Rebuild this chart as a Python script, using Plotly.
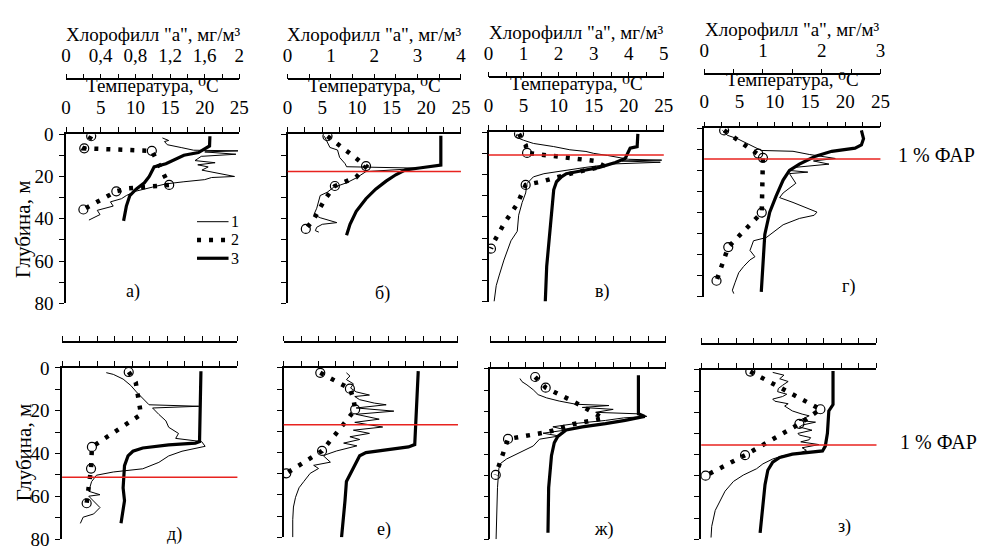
import plotly.graph_objects as go

# ------------------------------------------------------------------ data
# thin line (1), dotted chlorophyll "a" (2, with sample circles), thick temperature (3)
# panel а
a_temp_depth = [1, 5.6, 8.7, 10, 14, 15.5, 20, 23, 26, 29, 34, 41]
a_temp = [20.75, 20.7, 19.1, 17, 14.4, 12.7, 12, 11.3, 10.1, 9.2, 8.7, 8.3]
a_fl_depth = [1.8, 3.0, 3.5, 5.0, 6.4, 7.0, 7.6, 7.9, 8.4, 9.5, 10.5, 12.5, 13.5, 14.5, 15.5, 17, 18, 19, 20,
              20.5, 21.5, 22.5, 23.5, 25, 27, 29, 30.5, 32, 34, 36, 38, 40.6]
a_fl = [13.9, 14.8, 14.2, 14.6, 16.7, 17.5, 18.4, 24.8, 20, 24.5, 19.5, 18.6, 21.5, 19, 20.5, 19.6, 21, 22.5, 24.3,
        21, 20, 17, 14.4, 12.5, 10, 8.7, 8, 6.4, 6.8, 4.5, 4.9, 3.3]
a_chl_depth = [1.0, 6.7, 7.9, 17.8, 24.0, 25.6, 27.0, 35.6]
a_chl = [0.29, 0.21, 0.99, 1.11, 1.19, 0.72, 0.58, 0.2]
a_smp_depth = [1.0, 6.7, 7.9, 24.0, 27.0, 35.6]
a_smp = [0.29, 0.21, 0.99, 1.19, 0.58, 0.2]

# panel б
b_temp_depth = [0.8, 14.6, 16.0, 16.9, 19.2, 22.2, 26, 30.5, 36.5, 42.6, 47.8]
b_temp = [22.1, 22.1, 19, 17, 15.6, 14.2, 12.7, 11.3, 9.9, 9.0, 8.5]
b_fl_depth = [1, 3.5, 6.3, 7.5, 11, 14, 15.4, 16.1, 17.7, 20.7, 23, 25.2, 27.5, 29, 32, 35, 38, 39.5, 41.8, 42.6,
              44, 45.6, 46.3]
b_fl = [5.3, 5.7, 6.1, 7.2, 7.5, 8.3, 8.5, 19.3, 11.3, 9.9, 8.5, 6.6, 5.7, 4.7, 4.5, 4.2, 3.8, 4.7, 7.1, 5.0,
        4.2, 4.0, 4.5]
b_chl_depth = [1, 4.5, 7.4, 11.2, 15.1, 20.4, 24.5, 30.5, 35.8, 40.3, 44.8]
b_chl = [0.92, 1.15, 1.36, 1.57, 1.81, 1.58, 1.09, 0.87, 0.72, 0.6, 0.42]
b_smp_depth = [1, 15.1, 24.5, 44.8]
b_smp = [0.92, 1.81, 1.09, 0.42]

# panel в
v_temp_depth = [0.8, 6.8, 7.5, 10.6, 12.4, 14.3, 16.6, 18.1, 19.6, 21.1, 23.4, 27.2, 40.8, 63.4, 80]
v_temp = [21.3, 21.2, 20.2, 19.8, 19.5, 18.1, 15.8, 13.5, 11.1, 10.4, 9.7, 9.3, 8.9, 8.3, 8.1]
v_fl_depth = [0.8, 2.3, 3.8, 5.3, 6.8, 8.3, 9.1, 10, 11, 12, 12.8, 13.2, 13.6, 14.2, 15, 16.6, 18.1, 19.6, 21.1,
              24.2, 28.7, 33.2, 39.2, 46.8, 51.3, 60.4, 67.9, 72.5, 80]
v_fl = [4.1, 3.9, 5.0, 6.4, 9.3, 11.6, 13.9, 15.0, 17.0, 18.5, 20.0, 24.7, 19.0, 24.5, 17.7, 13.9, 10.7, 7.9, 6.4,
        5.5, 5.3, 4.8, 4.3, 4.1, 3.2, 2.2, 1.5, 1.1, 0.8]
v_chl_depth = [0.8, 6, 9.8, 11.5, 13.5, 16, 19.3, 23.4, 24.9, 33.9, 43, 51.3, 55]
v_chl = [0.87, 1.06, 1.1, 2.0, 3.0, 3.3, 2.4, 1.5, 1.06, 0.82, 0.45, 0.17, 0.07]
v_smp_depth = [0.8, 9.8, 24.9, 55]
v_smp = [0.87, 1.1, 1.06, 0.07]

# panel г
g_temp_depth = [1, 4.9, 7.9, 9.4, 10.9, 13.2, 14.7, 17, 20, 24.6, 32.2, 39.8, 50.4, 65.6, 77.7]
g_temp = [22.3, 22.6, 22.3, 21.4, 18.1, 15.8, 14.9, 13.5, 12.1, 11.2, 10.2, 9.3, 8.6, 8.3, 8.1]
g_fl_depth = [1, 3.3, 4.9, 6.4, 7.9, 9.4, 10.5, 10.9, 12.4, 14.3, 15.5, 17, 18.5, 20, 20.8, 21.5, 26.1, 30.7,
              32.9, 35.2, 38.2, 39.8, 41.3, 42.8, 45.8, 51.9, 53.4, 58, 61, 62.5, 65.6, 68.6, 73.1, 76.9, 78.5]
g_fl = [2.6, 3.3, 4.7, 5.6, 6.5, 7.4, 8.1, 12.6, 14.9, 18.6, 15.5, 17.7, 13.0, 12.1, 14.7, 12.1, 13.0, 11.2,
        10.7, 12.6, 14.9, 16.0, 15.6, 13.5, 11.2, 8.8, 7.0, 6.5, 7.2, 6.5, 5.6, 4.9, 4.4, 4.0, 4.2]
g_chl_depth = [1, 12, 14, 40, 56.4, 72.4]
g_chl = [0.34, 0.92, 1.0, 0.98, 0.41, 0.21]
g_smp_depth = [1, 12, 14, 40, 56.4, 72.4]
g_smp = [0.34, 0.92, 1.0, 0.98, 0.41, 0.21]

# panel д
d_temp_depth = [1.5, 26, 34.4, 35.1, 35.9, 37.4, 38.9, 41.1, 45.6, 56, 62, 72.5]
d_temp = [19.8, 19.7, 19.6, 19.0, 15.2, 11.5, 10.1, 9.4, 8.9, 8.7, 8.9, 8.4]
d_fl_depth = [2.2, 3, 5.2, 8.2, 11.2, 14.2, 17.2, 17.9, 18.7, 21.7, 24.7, 27.7, 30.6, 32.9, 34.4, 36.6, 38.9,
              41.1, 44.1, 47.1, 48.6, 50.1, 53.1, 57.6, 59.2, 59.9, 62.2, 65.2, 68.2, 69.7, 72.6]
d_fl = [6.3, 7.3, 8.7, 9.8, 10.6, 11.5, 12.4, 19.5, 12.9, 13.8, 14.8, 15.2, 16.6, 16.2, 19.9, 20.4, 17.1,
        15.2, 13.8, 11.5, 7.3, 4.9, 4.2, 3.8, 5.4, 3.8, 4.5, 5.4, 4.5, 3.0, 2.6]
d_chl_depth = [1.9, 6.7, 21.7, 36.9, 47, 63.2]
d_chl = [0.76, 0.84, 0.90, 0.34, 0.33, 0.28]
d_smp_depth = [1.9, 36.9, 47, 63.2]
d_smp = [0.76, 0.34, 0.33, 0.28]

# panel е
e_temp_depth = [1.5, 18.9, 36.2, 37.3, 40, 41.5, 44.5, 50.6, 53.6, 62.6, 71.7, 80]
e_temp = [19.3, 19.1, 18.8, 17.9, 11.8, 10.9, 10.4, 9.5, 9.0, 8.8, 8.5, 8.3]
e_fl_depth = [2.3, 3.8, 5.5, 7.5, 9.5, 11.3, 12.8, 13.5, 15, 16.6, 17.4, 18.9, 20.4, 21.9, 24.2, 25.7, 27.9,
              29.4, 30.9, 32.5, 33.8, 35.5, 36.8, 39.2, 40.8, 41.5, 44.5, 46, 47.5, 49.8, 53.6, 56.6, 61.1,
              65.7, 71.7, 80]
e_fl = [9.0, 9.5, 9.0, 10.0, 9.6, 10.4, 12.3, 10.2, 10.9, 13.0, 14.7, 10.4, 15.8, 10.4, 13.7, 10.2, 14.2,
        10.0, 12.3, 9.5, 10.9, 8.6, 10.5, 7.6, 6.2, 5.7, 6.7, 4.3, 5.0, 3.8, 2.9, 2.2, 1.7,
        1.4, 1.3, 1.3]
e_chl_depth = [2.3, 9.8, 14.5, 19.6, 24.9, 39.2, 49.8]
e_chl = [0.42, 0.76, 0.80, 0.82, 0.72, 0.44, 0.03]
e_smp_depth = [2.3, 9.8, 19.6, 39.2, 49.8]
e_smp = [0.42, 0.76, 0.82, 0.44, 0.03]

# panel ж
zh_temp_depth = [3, 21.1, 22.3, 24.2, 25.7, 27.2, 28.7, 31.7, 34.7, 40.8, 55.8, 77]
zh_temp = [21.1, 21.1, 22.0, 19.2, 16.4, 13.1, 10.8, 9.6, 9.1, 8.7, 8.3, 8.2]
zh_fl_depth = [4.5, 6, 7.5, 9.8, 12.1, 13.6, 15.1, 16.6, 17.2, 18.1, 19, 20.4, 21.1, 22.3, 23, 24.2, 25.5,
               27.2, 28.7, 30.2, 31.5, 33, 36.2, 39.2, 42.3, 44.5, 46.8, 55.8, 64.9, 80]
zh_fl = [4.2, 4.5, 5.2, 6.1, 6.8, 8.0, 9.8, 12.2, 16.9, 13.1, 17.5, 15.0, 21.1, 22.3, 19.0, 16.4, 12.5,
         8.9, 10.8, 7.5, 9.8, 7.0, 6.1, 4.2, 2.3, 1.4, 1.2, 1.0, 0.9, 0.8]
zh_chl_depth = [3.8, 8.8, 15.2, 23.2, 26, 29.6, 32.9, 49.8]
zh_chl = [0.51, 0.63, 0.94, 1.29, 0.94, 0.66, 0.2, 0.06]
zh_smp_depth = [3.8, 8.8, 32.9, 49.8]
zh_smp = [0.51, 0.63, 0.2, 0.06]

# panel з
z_temp_depth = [0.5, 16.4, 19.4, 30, 36, 38.3, 39.8, 41.4, 43.6, 47.4, 54.2, 63.3, 77]
z_temp = [18.8, 18.8, 18.2, 18.0, 17.7, 17.3, 13.0, 11.2, 10.2, 9.5, 9.1, 8.8, 8.4]
z_fl_depth = [1.2, 2.5, 4.2, 5.5, 7.3, 8.8, 10.3, 11.5, 12.6, 13.8, 14.8, 16, 17.1, 19.4, 20.9, 21.7, 23.9,
              24.7, 26, 27, 28.5, 30, 30.8, 32, 33, 34, 35.3, 36.8, 38, 39.1, 40.6, 42.1, 44.4, 46.7, 49.7,
              52.7, 57.3, 61.8, 66.4, 73.9, 79.2]
z_fl = [10.2, 11.8, 11.2, 12.4, 11.6, 11.0, 10.9, 12.2, 11.6, 10.2, 10.5, 12.4, 11.9, 13.0, 14.4, 15.4, 14.0,
        16.3, 14.5, 14.0, 15.8, 13.8, 14.0, 15.6, 15.4, 14.2, 16.8, 14.4, 15.0, 14.2, 11.6, 10.2, 8.8, 7.9, 6.0,
        4.6, 3.4, 2.7, 2.0, 1.5, 1.4]
z_chl_depth = [0.8, 18.6, 25.5, 40.3, 50]
z_chl = [0.56, 1.36, 1.12, 0.5, 0.05]
z_smp_depth = [0.8, 18.6, 25.5, 40.3, 50]
z_smp = [0.56, 1.36, 1.12, 0.5, 0.05]

panel_labels = ["а)", "б)", "в)", "г)", "д)", "е)", "ж)", "з)"]
chl_title = 'Хлорофилл "а", мг/м³'
temp_title = "Температура, ⁰С"
depth_title = "Глубина, м"
par_label = "1 % ФАР"
chl_max = [2, 4, 5, 3, 2, 2, 2, 2]
chl_step = [0.2, 0.5, 0.5, 0.5, 0.2, 0.2, 0.2, 0.2]
chl_label_step = [0.4, 1, 1, 1, None, None, None, None]
temp_max = 25
par_depth = [None, 17.6, 10.8, 14.6, 51.1, 26.8, None, 35.5]
legend_names = ["1", "2", "3"]

series = [
    (a_temp_depth, a_temp, a_fl_depth, a_fl, a_chl_depth, a_chl, a_smp_depth, a_smp),
    (b_temp_depth, b_temp, b_fl_depth, b_fl, b_chl_depth, b_chl, b_smp_depth, b_smp),
    (v_temp_depth, v_temp, v_fl_depth, v_fl, v_chl_depth, v_chl, v_smp_depth, v_smp),
    (g_temp_depth, g_temp, g_fl_depth, g_fl, g_chl_depth, g_chl, g_smp_depth, g_smp),
    (d_temp_depth, d_temp, d_fl_depth, d_fl, d_chl_depth, d_chl, d_smp_depth, d_smp),
    (e_temp_depth, e_temp, e_fl_depth, e_fl, e_chl_depth, e_chl, e_smp_depth, e_smp),
    (zh_temp_depth, zh_temp, zh_fl_depth, zh_fl, zh_chl_depth, zh_chl, zh_smp_depth, zh_smp),
    (z_temp_depth, z_temp, z_fl_depth, z_fl, z_chl_depth, z_chl, z_smp_depth, z_smp),
]

# ------------------------------------------------------------------ layout geometry (pixels)
W, H = 983, 556
# x0, x1, y_top (depth 0 / temperature axis), y_bottom (depth 80), chlorophyll axis y
geo = [
    (62, 238, 129, 305, 72),
    (287, 463, 129, 305, 72),
    (491, 669, 127, 303, 70),
    (710, 889, 123, 298, 67),
    (58, 236, 372, 550, 345),
    (283, 460, 372, 548, 345),
    (493, 671, 373, 550, 345),
    (707, 885, 374, 550, 347),
]
label_pos = [(130, 293), (383, 295), (607, 293), (857, 287), (172, 545), (385, 540), (608, 540), (853, 537)]

THIN = dict(color="black", width=1)
DOTS = dict(color="black", width=4.5, dash="4px,8px")
THICK = dict(color="black", width=3.2)


def px(x):
    return x / W


def py(y):
    return 1 - y / H


def fmt(v):
    if abs(v - round(v)) < 1e-9:
        return str(int(round(v)))
    return ("%g" % v).replace(".", ",")


SERIF = "Liberation Serif, Times New Roman, DejaVu Serif, serif"
FS = 19
fig = go.Figure()
layout = dict(
    width=W, height=H, margin=dict(l=0, r=0, t=0, b=0),
    paper_bgcolor="white", plot_bgcolor="rgba(0,0,0,0)",
    font=dict(family=SERIF, size=FS, color="black"),
    showlegend=False,
)
annotations = []
shapes = []

for i, (x0, x1, yt, yb, yc) in enumerate(geo):
    tx = "x%d" % (2 * i + 1)
    cx = "x%d" % (2 * i + 2)
    yy = "y%d" % (i + 1)
    txk = "xaxis%d" % (2 * i + 1)
    cxk = "xaxis%d" % (2 * i + 2)
    yk = "yaxis%d" % (i + 1)
    top_row = i < 4

    # temperature axis
    tvals = [k * 2.5 for k in range(11)]
    ttext = [fmt(v) if abs(v / 5 - round(v / 5)) < 1e-9 else "" for v in tvals]
    layout[txk] = dict(domain=[px(x0), px(x1)], anchor=yy, side="top", range=[0, temp_max],
                       tickvals=tvals, ticktext=ttext, showticklabels=top_row,
                       ticks="outside", ticklen=5, tickwidth=1.2, tickcolor="black",
                       ticklabelstandoff=6,
                       showline=True, linewidth=1.5, linecolor="black",
                       showgrid=False, zeroline=False, fixedrange=True,
                       tickfont=dict(family=SERIF, size=FS))
    # chlorophyll axis
    n = int(round(chl_max[i] / chl_step[i]))
    cvals = [round(k * chl_step[i], 4) for k in range(n + 1)]
    if chl_label_step[i]:
        ls = chl_label_step[i]
        ctext = [fmt(v) if abs(v / ls - round(v / ls)) < 1e-6 else "" for v in cvals]
    else:
        ctext = [""] * len(cvals)
    layout[cxk] = dict(overlaying=tx, anchor="free", position=py(yc), side="top", range=[0, chl_max[i]],
                       tickvals=cvals, ticktext=ctext, showticklabels=bool(chl_label_step[i]),
                       ticks="outside", ticklen=5, tickwidth=1.2, tickcolor="black",
                       ticklabelstandoff=4,
                       showline=True, linewidth=1.5, linecolor="black",
                       showgrid=False, zeroline=False, fixedrange=True,
                       tickfont=dict(family=SERIF, size=FS))
    # depth axis
    dvals = list(range(0, 81, 10))
    show_depth = i in (0, 4)
    layout[yk] = dict(domain=[py(yb), py(yt)], anchor=tx, range=[80, 0],
                      tickvals=dvals, ticktext=[str(v) if v % 20 == 0 else "" for v in dvals],
                      showticklabels=show_depth,
                      ticks="outside", ticklen=5, tickwidth=1.2, tickcolor="black",
                      ticklabelstandoff=2,
                      showline=True, linewidth=1.5, linecolor="black",
                      showgrid=False, zeroline=False, fixedrange=True,
                      tickfont=dict(family=SERIF, size=FS))

    tdep, temp, fdep, fl, cdep, chl, sdep, smp = series[i]
    fig.add_trace(go.Scatter(x=fl, y=fdep, xaxis=tx, yaxis=yy, mode="lines", name=legend_names[0],
                             line=THIN))
    fig.add_trace(go.Scatter(x=chl, y=cdep, xaxis=cx, yaxis=yy, mode="lines", name=legend_names[1],
                             line=DOTS))
    fig.add_trace(go.Scatter(x=smp, y=sdep, xaxis=cx, yaxis=yy, mode="markers", name=legend_names[1],
                             marker=dict(symbol="circle-open", size=9, color="black",
                                         line=dict(width=1.2, color="black"))))
    fig.add_trace(go.Scatter(x=temp, y=tdep, xaxis=tx, yaxis=yy, mode="lines", name=legend_names[2],
                             line=THICK))

    if par_depth[i] is not None:
        shapes.append(dict(type="line", xref=tx + " domain", yref=yy, x0=0, x1=1,
                           y0=par_depth[i], y1=par_depth[i], line=dict(color="#e8231f", width=1.5)))

    if top_row:
        cxm = (x0 + x1) / 2
        annotations.append(dict(text=chl_title, x=px(cxm), y=py(yc - 47),
                                xref="paper", yref="paper", showarrow=False, xanchor="center",
                                yanchor="middle", font=dict(family=SERIF, size=FS)))
        annotations.append(dict(text=temp_title, x=px(cxm), y=py(yt - 51),
                                xref="paper", yref="paper", showarrow=False, xanchor="center",
                                yanchor="middle", font=dict(family=SERIF, size=FS)))
    lx, ly = label_pos[i]
    annotations.append(dict(text=panel_labels[i], x=px(lx), y=py(ly), xref="paper", yref="paper",
                            showarrow=False, xanchor="center", yanchor="middle",
                            font=dict(family=SERIF, size=18)))

# legend key (panel а): sample line + number
for k, (name, style) in enumerate(zip(legend_names, (THIN, DOTS, THICK))):
    ly = 220 + 19 * k
    shapes.append(dict(type="line", xref="paper", yref="paper", x0=px(195), x1=px(227),
                       y0=py(ly), y1=py(ly), line=style))
    annotations.append(dict(text=name, x=px(228), y=py(ly), xref="paper", yref="paper", showarrow=False,
                            xanchor="left", yanchor="middle", borderpad=0,
                            font=dict(family=SERIF, size=16)))

for yc in (228, 460):
    annotations.append(dict(text=depth_title, x=px(19), y=py(yc), xref="paper", yref="paper",
                            showarrow=False, textangle=-90, xanchor="center", yanchor="middle",
                            font=dict(family=SERIF, size=21)))
for (xa, ya) in ((905, 151), (907, 449)):
    annotations.append(dict(text=par_label, x=px(xa), y=py(ya), xref="paper", yref="paper",
                            showarrow=False, xanchor="left", yanchor="middle",
                            font=dict(family=SERIF, size=20)))

layout["annotations"] = annotations
layout["shapes"] = shapes
fig.update_layout(**layout)
fig.write_html("out.html", config={"displayModeBar": False},
               post_script="document.body.style.margin='0px';document.body.style.overflow='hidden';")
